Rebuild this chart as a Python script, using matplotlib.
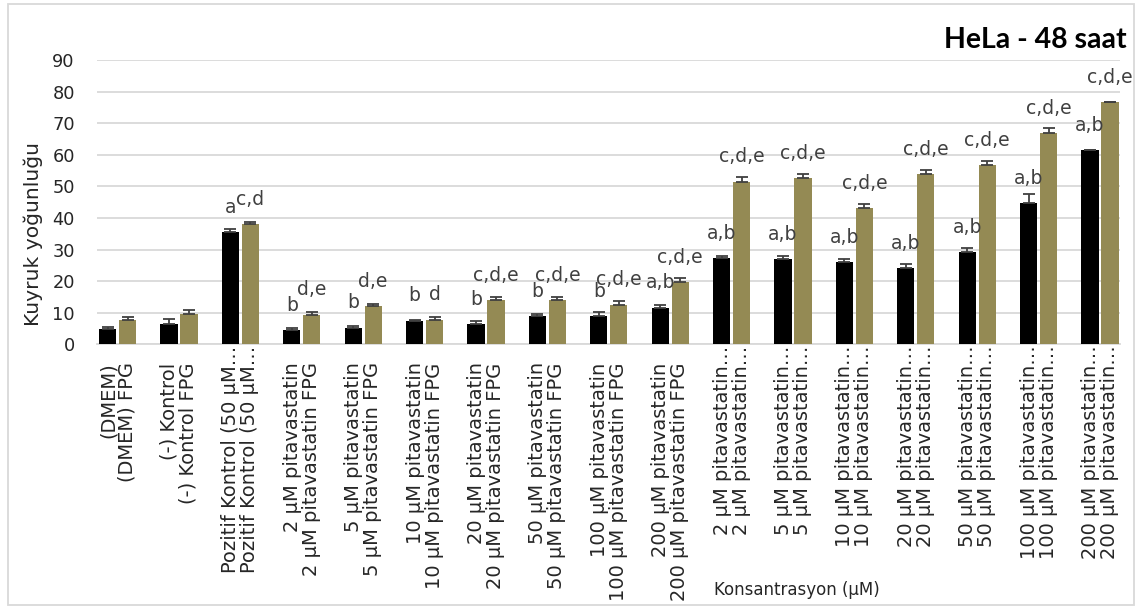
import matplotlib
matplotlib.use("Agg")
import matplotlib.pyplot as plt
import numpy as np

plt.rcParams["font.family"] = ["DejaVu Sans"]

# Category labels (two lines: plain / FPG)
labels = [
    "(DMEM)\n(DMEM) FPG",
    "(-) Kontrol\n(-) Kontrol FPG",
    "Pozitif Kontrol (50 µM…\nPozitif Kontrol (50 µM…",
    "2 µM pitavastatin\n2 µM pitavastatin FPG",
    "5 µM pitavastatin\n5 µM pitavastatin FPG",
    "10 µM pitavastatin\n10 µM pitavastatin FPG",
    "20 µM pitavastatin\n20 µM pitavastatin FPG",
    "50 µM pitavastatin\n50 µM pitavastatin FPG",
    "100 µM pitavastatin\n100 µM pitavastatin FPG",
    "200 µM pitavastatin\n200 µM pitavastatin FPG",
    "2 µM pitavastatin…\n2 µM pitavastatin…",
    "5 µM pitavastatin…\n5 µM pitavastatin…",
    "10 µM pitavastatin…\n10 µM pitavastatin…",
    "20 µM pitavastatin…\n20 µM pitavastatin…",
    "50 µM pitavastatin…\n50 µM pitavastatin…",
    "100 µM pitavastatin…\n100 µM pitavastatin…",
    "200 µM pitavastatin…\n200 µM pitavastatin…",
]
truncated = [False, False, True, False, False, False, False, False, False, False,
             True, True, True, True, True, True, True]

# Tail intensity values and upper error bars
black_vals = [4.8, 6.4, 35.4, 4.5, 5.2, 7.4, 6.4, 8.9, 8.9, 11.5,
              27.2, 27.0, 25.9, 24.0, 29.1, 44.6, 61.4]
black_err = [0.7, 1.6, 1.0, 0.8, 0.7, 0.4, 0.9, 0.8, 1.2, 0.9,
             0.8, 1.0, 1.2, 1.4, 1.5, 2.9, 0.0]
gold_vals = [7.7, 9.6, 38.0, 9.3, 12.1, 7.7, 14.0, 14.0, 12.5, 19.7,
             51.4, 52.5, 43.0, 53.9, 56.7, 66.8, 76.6]
gold_err = [1.0, 1.4, 0.6, 0.8, 0.8, 0.9, 0.9, 1.1, 1.3, 1.3,
            1.6, 1.5, 1.4, 1.3, 1.2, 1.6, 0.0]

# Significance letters
black_sig = ["", "", "a", "b", "b", "b", "b", "b", "b", "a,b",
             "a,b", "a,b", "a,b", "a,b", "a,b", "a,b", "a,b"]
gold_sig = ["", "", "c,d", "d,e", "d,e", "d", "c,d,e", "c,d,e", "c,d,e", "c,d,e",
            "c,d,e", "c,d,e", "c,d,e", "c,d,e", "c,d,e", "c,d,e", "c,d,e"]

yticks = [0, 10, 20, 30, 40, 50, 60, 70, 80, 90]

BLACK = "#000000"
GOLD = "#948A54"
GRID = "#d9d9d9"
TEXT = "#404040"
DARK = "#262626"

fig = plt.figure(figsize=(11.38, 6.07), dpi=100)
ax = fig.add_axes([97 / 1138, 1 - 344.3 / 607, (1120 - 97) / 1138, (344.3 - 60) / 607])

x = np.arange(len(labels))
w = 0.28
off = 0.163
xb = x - off
xg = x + off

ax.bar(xb, black_vals, width=w, color=BLACK, zorder=3)
ax.bar(xg, gold_vals, width=w, color=GOLD, zorder=3)
ekw = dict(fmt="none", ecolor="#404040", elinewidth=1.3, capsize=4.5, capthick=1.3, zorder=4)
ax.errorbar(xb, black_vals, yerr=[np.zeros(len(x)), black_err], **ekw)
ax.errorbar(xg, gold_vals, yerr=[np.zeros(len(x)), gold_err], **ekw)

for xi, v, s in zip(xb, black_vals, black_sig):
    if s:
        ax.annotate(s, (xi, v), xytext=(0, 18), textcoords="offset points",
                    ha="center", va="center", fontsize=13.5, color=TEXT, zorder=5)
for xi, v, s in zip(xg, gold_vals, gold_sig):
    if s:
        ax.annotate(s, (xi, v), xytext=(0, 18), textcoords="offset points",
                    ha="center", va="center", fontsize=13.5, color=TEXT, zorder=5)

ax.set_xlim(-0.334, len(labels) - 1 + 0.326)
ax.set_ylim(0, 90)
ax.set_yticks(yticks)
ax.set_yticklabels([str(t) for t in yticks], fontsize=12.8, color=DARK)
ax.yaxis.grid(True, color=GRID, linewidth=1.3, zorder=0)
ax.set_axisbelow(True)
for side in ["top", "right", "left"]:
    ax.spines[side].set_visible(False)
ax.spines["bottom"].set_color(GRID)
ax.spines["bottom"].set_linewidth(1.3)
ax.tick_params(axis="y", length=0, pad=16)
ax.tick_params(axis="x", length=0)
ax.set_xticks([])

# Rotated two-line category labels below the axis
xt = ax.get_xaxis_transform()
for xi, lab, tr in zip(x, labels, truncated):
    pad = 1 if tr else 13
    ax.annotate(lab, (xi, 0), xycoords=xt, xytext=(0, -pad), textcoords="offset points",
                rotation=90, ha="center", va="top", multialignment="right",
                fontsize=14, color=DARK, linespacing=1.0)

fig.text(1127 / 1138, 1 - 40 / 607, "HeLa - 48 saat", ha="right", va="center",
         fontsize=20.5, fontweight="bold", color="#000000", family=["Lato", "DejaVu Sans"])
fig.text(33 / 1138, 1 - 234 / 607, "Kuyruk yoğunluğu", rotation=90, ha="center",
         va="center", fontsize=14.6, color=DARK)
fig.text(797 / 1138, 1 - 590 / 607, "Konsantrasyon (µM)", ha="center", va="center",
         fontsize=12, color=DARK)

# Chart-area border
fig.patches.append(plt.Rectangle((8 / 1138, 2 / 607), 1126 / 1138, 601 / 607,
                                 transform=fig.transFigure, fill=False,
                                 edgecolor=GRID, linewidth=1.3))

fig.savefig("out.png", dpi=100, facecolor="white")
